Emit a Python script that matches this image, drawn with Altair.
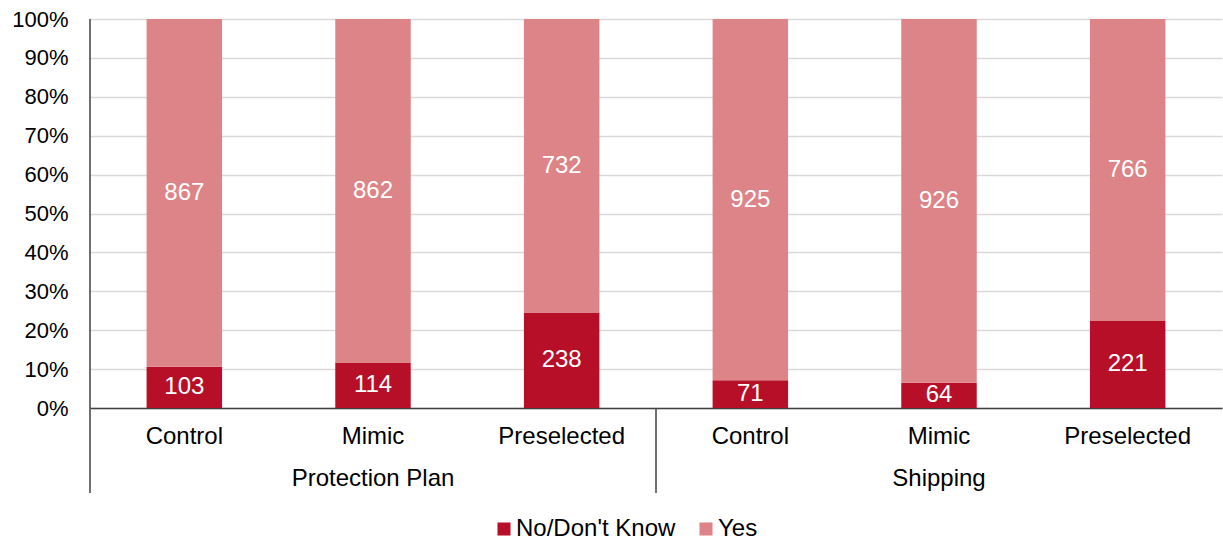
import altair as alt
import pandas as pd

# Survey responses by offer type and presentation condition
groups = ["Protection Plan", "Protection Plan", "Protection Plan", "Shipping", "Shipping", "Shipping"]
conditions = ["Control", "Mimic", "Preselected", "Control", "Mimic", "Preselected"]
no_counts = [103, 114, 238, 71, 64, 221]
yes_counts = [867, 862, 732, 925, 926, 766]

responses = ["No/Don't Know", "Yes"]
colors = ["#B80F29", "#DC8487"]

rows = []
for g, c, n, y in zip(groups, conditions, no_counts, yes_counts):
    key = f"{g}|{c}"
    rows.append({"key": key, "group": g, "condition": c, "response": responses[0], "count": n, "order": 0})
    rows.append({"key": key, "group": g, "condition": c, "response": responses[1], "count": y, "order": 1})
df = pd.DataFrame(rows)
keys = list(dict.fromkeys(df["key"]))

W, H = 1132, 389
FONT = "Liberation Sans"
FS_Y = 22
FS = 24

x_enc = alt.X(
    "key:N",
    sort=keys,
    scale=alt.Scale(paddingInner=0, paddingOuter=0),
    axis=alt.Axis(
        title=None,
        labelExpr="split(datum.label, '|')[1]",
        labelAngle=0,
        labelFontSize=FS,
        labelColor="#000000",
        labelPadding=16,
        ticks=False,
        domainColor="#404040",
        domainWidth=1.5,
    ),
)

y_axis = alt.Axis(
    title=None,
    format=".0%",
    values=[i / 10 for i in range(11)],
    labelFontSize=FS_Y,
    labelColor="#000000",
    labelPadding=22,
    labelOverlap=False,
    labelFlush=False,
    ticks=False,
    domain=False,
    gridColor="#D9D9D9",
    gridWidth=1.5,
)

base = alt.Chart(df)

bars = base.mark_bar(width=alt.RelativeBandSize(0.4)).encode(
    x=x_enc,
    y=alt.Y("count:Q", stack="normalize", scale=alt.Scale(domain=[0, 1]), axis=y_axis),
    color=alt.Color(
        "response:N",
        scale=alt.Scale(domain=responses, range=colors),
        legend=alt.Legend(
            title=None,
            orient="none",
            direction="horizontal",
            legendX=402,
            legendY=498,
            symbolType="square",
            symbolSize=170,
            symbolStrokeWidth=0,
            labelFontSize=FS,
            labelColor="#000000",
            labelOffset=0,
            columnPadding=18,
        ),
    ),
    order=alt.Order("order:Q"),
)

# Value labels centred within each stacked segment
labels = (
    base.transform_joinaggregate(total="sum(count)", groupby=["key"])
    .transform_window(cum="sum(count)", groupby=["key"], sort=[alt.SortField("order")])
    .transform_calculate(mid="(datum.cum - datum.count / 2) / datum.total")
    .mark_text(color="white", fontSize=FS, baseline="middle")
    .encode(x=alt.X("key:N", sort=keys), y=alt.Y("mid:Q", axis=y_axis), text="count:Q")
)

# Group captions under the middle condition of each group
group_df = df[(df["condition"] == "Mimic") & (df["order"] == 0)]
group_labels = (
    alt.Chart(group_df)
    .mark_text(fontSize=FS, color="#000000", baseline="middle")
    .encode(x=alt.X("key:N", sort=keys), y=alt.value(H + 71), text="group:N")
)

# Divider after the last condition of the first group, and the extended left axis line
last_df = df[(df["key"] == "Protection Plan|Preselected") & (df["order"] == 0)]
divider = (
    alt.Chart(last_df)
    .mark_rule(color="#404040", strokeWidth=1.5)
    .encode(
        x=alt.X("key:N", sort=keys, bandPosition=1),
        y=alt.value(H),
        y2=alt.value(H + 85),
    )
)
left_line = (
    alt.Chart(last_df)
    .mark_rule(color="#404040", strokeWidth=1.5)
    .encode(x=alt.value(0), y=alt.value(0), y2=alt.value(H + 85))
)

chart = (
    alt.layer(bars, labels, group_labels, divider, left_line)
    .properties(
        width=W,
        height=H,
        autosize=alt.AutoSizeParams(type="none"),
        padding={"left": 90, "top": 19, "right": 1, "bottom": 133},
    )
    .configure(font=FONT)
    .configure_view(stroke=None)
)

chart.save("out.html", embed_options={"renderer": "svg", "actions": False})
